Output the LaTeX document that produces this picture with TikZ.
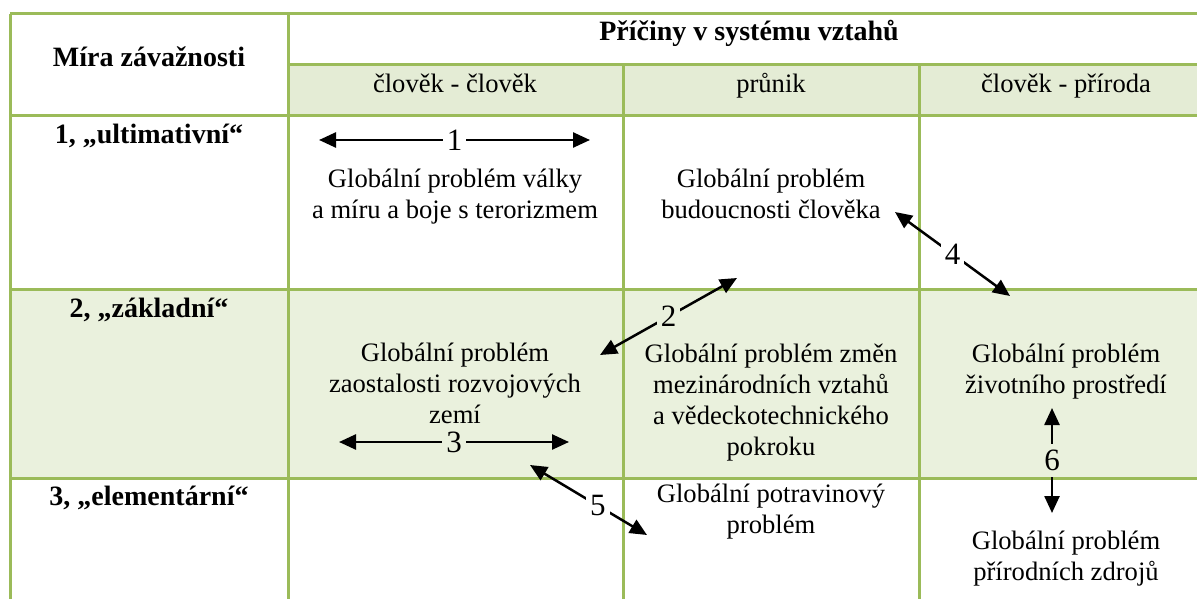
\documentclass[tikz,border=0pt]{standalone}
\usepackage{fontspec}
\setmainfont{Liberation Serif}
\usetikzlibrary{arrows.meta}
\definecolor{gridgreen}{HTML}{9BBB59}
\definecolor{headfill}{HTML}{E4ECD5}
\definecolor{rowfill}{HTML}{EAF1DD}

\begin{document}
\begin{tikzpicture}[x=1pt,y=-1pt,
  grid/.style={draw=gridgreen,line width=3pt},
  body/.style={font=\fontsize{26.6}{31}\selectfont,align=center,anchor=base,inner sep=0pt},
  head/.style={font=\fontsize{28}{32}\selectfont\bfseries,anchor=base,inner sep=0pt},
  link/.style={{Triangle[length=17pt,width=15pt]}-{Triangle[length=17pt,width=15pt]},line width=2.5pt},
  num/.style={font=\fontsize{31}{31}\selectfont,inner xsep=4pt,inner ysep=6pt}
]
\useasboundingbox (0,0) rectangle (1197,599);

% shaded header row and middle row
\fill[headfill] (288,65) rectangle (1197,116);
\fill[rowfill] (10,289) rectangle (1197,478);

% table rules
\draw[grid] (10,14) -- (1197,14);
\draw[grid] (288,65) -- (1197,65);
\draw[grid] (10,116) -- (1197,116);
\draw[grid] (10,289) -- (1197,289);
\draw[grid] (10,478) -- (1197,478);
\draw[grid] (10,14) -- (10,599);
\draw[grid] (288,14) -- (288,599);
\draw[grid] (623,65) -- (623,599);
\draw[grid] (919,65) -- (919,599);

% headers
\node[head] (hmira) at (149,67) {Míra závažnosti};
\node[head] (hpric) at (749,41) {Příčiny v systému vztahů};
\node[body] (hcc) at (455,93) {člověk - člověk};
\node[body] (hpr) at (771,93) {průnik};
\node[body] (hcp) at (1066,93) {člověk - příroda};
\node[head] (r1) at (149,143) {1, „ultimativní“};
\node[head] (r2) at (149,317) {2, „základní“};
\node[head] (r3) at (149,505) {3, „elementární“};

% problems (anchored at the baseline of the last line)
\node[body] (valka) at (455,218) {Globální problém války\\a míru a boje s terorizmem};
\node[body] (budoucnost) at (771,218) {Globální problém\\budoucnosti člověka};
\node[body] (zaostalost) at (455,423) {Globální problém\\zaostalosti rozvojových\\zemí};
\node[body] (zmeny) at (771,455) {Globální problém změn\\mezinárodních vztahů\\a vědeckotechnického\\pokroku};
\node[body] (prostredi) at (1066,393) {Globální problém\\životního prostředí};
\node[body] (potraviny) at (771,533) {Globální potravinový\\problém};
\node[body] (zdroje) at (1066,580) {Globální problém\\přírodních zdrojů};

% arrow end points
\coordinate (a1l) at (319,140);
\coordinate (a1r) at (590,140);
\coordinate (a2l) at (600,355);
\coordinate (a2r) at (737,278);
\coordinate (a3l) at (339,442);
\coordinate (a3r) at (569,442);
\coordinate (a4t) at (895,212);
\coordinate (a4b) at (1010,296);
\coordinate (a5t) at (530,465);
\coordinate (a5b) at (647,535);
\coordinate (a6t) at (1052,408);
\coordinate (a6b) at (1052,513);

% links between problems
\draw[link] (a1l) -- node[num,fill=white] (n1) {1} (a1r);
\draw[link] (a2l) -- node[num,fill=rowfill] (n2) {2} (a2r);
\draw[link] (a3l) -- node[num,fill=rowfill] (n3) {3} (a3r);
\draw[link] (a4t) -- node[num,fill=white] (n4) {4} (a4b);
\draw[link] (a5t) -- node[num,fill=white,pos=0.58] (n5) {5} (a5b);
\draw[link] (a6t) -- node[num,fill=rowfill] (n6) {6} (a6b);
\end{tikzpicture}
\end{document}
